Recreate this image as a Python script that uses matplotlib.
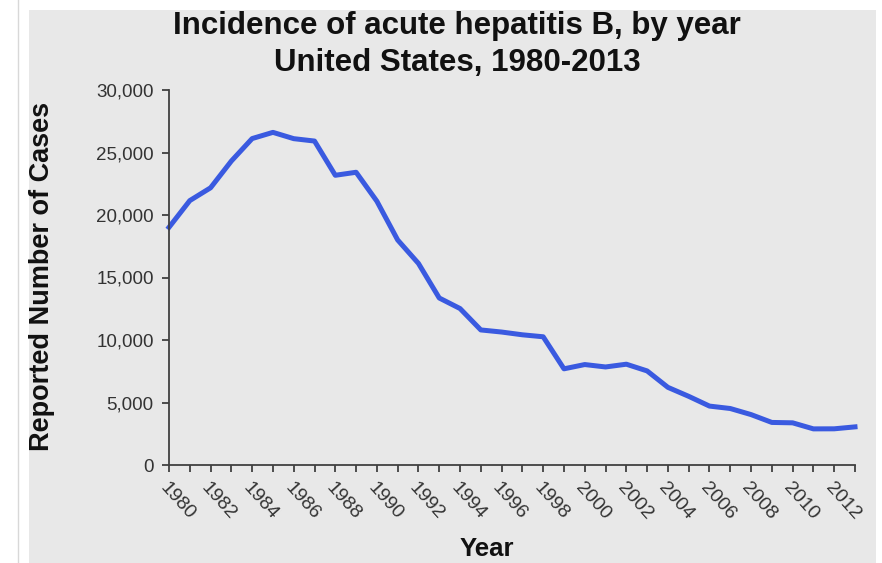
import matplotlib.pyplot as plt
from matplotlib.patches import Rectangle
from matplotlib.lines import Line2D
from matplotlib.ticker import FuncFormatter

plt.rcParams['font.family'] = ['Liberation Sans', 'DejaVu Sans']

# reported acute hepatitis B cases, US
years = list(range(1980, 2014))
cases = [19015, 21152, 22177, 24318, 26115, 26611, 26107, 25916, 23177, 23419,
         21102, 18003, 16126, 13361, 12517, 10805, 10637, 10416, 10258, 7694,
         8036, 7843, 8064, 7526, 6212, 5494, 4713, 4519, 4033, 3405,
         3374, 2890, 2895, 3050]
label_years = list(range(1980, 2013, 2))
y_ticks = [0, 5000, 10000, 15000, 20000, 25000, 30000]

W, H = 882, 563
fig = plt.figure(figsize=(W / 100, H / 100), dpi=100)
fig.patch.set_facecolor('white')

# grey slide background and thin frame line on the left
fig.add_artist(Rectangle((29 / W, 0), (876 - 29) / W, (563 - 10) / H,
                         transform=fig.transFigure, facecolor='#e8e8e8',
                         edgecolor='none', zorder=0))
fig.add_artist(Line2D([17.5 / W, 17.5 / W], [0, 1], transform=fig.transFigure,
                      color='#d8d8d8', lw=1, zorder=0))

ax = fig.add_axes([169 / W, 1 - 465 / H, (855 - 169) / W, (465 - 90) / H])
ax.patch.set_alpha(0)

ax.plot(years, cases, color='#3a5ae0', lw=3.6, solid_joinstyle='round',
        clip_on=False)

ax.set_xlim(1980, 2013)
ax.set_ylim(0, 30000)

for s in ['top', 'right']:
    ax.spines[s].set_visible(False)
for s in ['left', 'bottom']:
    ax.spines[s].set_color('#404040')
    ax.spines[s].set_linewidth(1.3)

ax.set_yticks(y_ticks)
ax.yaxis.set_major_formatter(FuncFormatter(lambda v, p: f'{int(v):,}'))
ax.set_xticks(years, minor=True)
ax.set_xticks(label_years)
ax.set_xticklabels([str(y) for y in label_years], rotation=-48,
                   ha='left', va='top', rotation_mode='anchor')
ax.tick_params(axis='both', which='both', direction='out', length=5,
               width=1.3, color='#404040', labelcolor='#333333')
ax.tick_params(axis='x', which='major', pad=5, labelsize=14)
ax.tick_params(axis='y', pad=6, labelsize=13.5)

title_kw = dict(ha='center', va='center', fontsize=22.5, fontweight='bold',
                color='#111111')
fig.text(457 / W, 1 - 26 / H, 'Incidence of acute hepatitis B, by year', **title_kw)
fig.text(457 / W, 1 - 63 / H, 'United States, 1980-2013', **title_kw)
fig.text(42 / W, 1 - 276 / H, 'Reported Number of Cases', rotation=90,
         ha='center', va='center', fontsize=19.5, fontweight='bold', color='#111111')
fig.text(487 / W, 1 - 549 / H, 'Year', ha='center', va='center',
         fontsize=18.5, fontweight='bold', color='#111111')

fig.savefig('out.png', dpi=100)
